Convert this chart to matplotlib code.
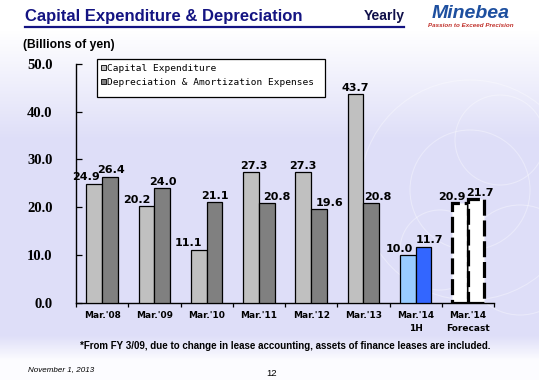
import numpy as np
import matplotlib
matplotlib.use('Agg')
import matplotlib.pyplot as plt
from matplotlib.patches import Rectangle, Patch
from matplotlib.lines import Line2D

#%% data
categories = ["Mar.'08", "Mar.'09", "Mar.'10", "Mar.'11", "Mar.'12", "Mar.'13",
              "Mar.'14\n1H", "Mar.'14\nForecast"]
capex = [24.9, 20.2, 11.1, 27.3, 27.3, 43.7, 10.0, 20.9]
deprec = [26.4, 24.0, 21.1, 20.8, 19.6, 20.8, 11.7, 21.7]
yticks = [0, 10, 20, 30, 40, 50]

# label nudges (pixels), like the hand-placed labels in the slide
capex_dx = [-8, -10, -10, 3, 0, 0, -8, -8]
dep_dx = [1, 1, 0, 10, 11, 7, 6, 4]

capex_col = ['#c0c0c0'] * 6 + ['#99ccff', 'white']
dep_col = ['#808080'] * 6 + ['#3366ff', 'white']

W, H = 539, 380
fig = plt.figure(figsize=(W / 100, H / 100), dpi=100)

#%% background gradient
bg = fig.add_axes([0, 0, 1, 1], zorder=-10)
yy = np.arange(H)
top = np.array([1.0, 1.0, 1.0])
lav = np.array([222, 222, 248]) / 255.
t = np.clip((yy - 30) / 110., 0, 1)
b = np.clip((yy - 335) / 25., 0, 1)
col = top[None, :] * (1 - t[:, None]) + lav[None, :] * t[:, None]
col = col * (1 - b[:, None]) + np.array([0.99, 0.99, 1.0])[None, :] * b[:, None]
img = np.repeat(col[:, None, :], W, axis=1)
bg.imshow(img, extent=[0, W, H, 0], aspect='auto')
bg.set_xlim(0, W)
bg.set_ylim(H, 0)
bg.axis('off')

# faint decorative circles on the right
for cx, cy, r in [(470, 190, 60), (500, 140, 45), (440, 250, 40), (520, 260, 55), (470, 190, 110)]:
    bg.add_patch(plt.Circle((cx, cy), r, fill=False, ec='white', lw=0.8, alpha=0.35))

#%% header
fig.text(25 / W, 1 - 16 / H, 'Capital Expenditure & Depreciation', fontsize=12,
         color='#141482', fontfamily='Liberation Sans', fontweight='bold', va='center')
fig.text(405 / W, 1 - 16 / H, 'Yearly', fontsize=10, color='#10104a',
         fontfamily='Liberation Sans', fontweight='bold', va='center', ha='right')
fig.add_artist(Line2D([25 / W, 404 / W], [1 - 27 / H, 1 - 27 / H], color='#141482', lw=1.6))
fig.text(471 / W, 1 - 14 / H, 'Minebea', fontsize=14, color='#1d4f9f',
         fontfamily='Liberation Sans', fontweight='bold', style='italic', va='center', ha='center')
fig.text(471 / W, 1 - 25.5 / H, 'Passion to Exceed Precision', fontsize=4.5, color='#c0302a',
         fontfamily='Liberation Sans', fontweight='bold', style='italic', va='center', ha='center')
fig.text(23 / W, 1 - 45 / H, '(Billions of yen)', fontsize=8.7, fontfamily='Liberation Sans',
         fontweight='bold', va='center')

#%% chart
ax = fig.add_axes([76 / W, 1 - 302.7 / H, (494 - 76) / W, (302.7 - 64) / H])
ax.patch.set_alpha(0)
x = np.arange(len(categories))
w = 0.3
for i in range(len(categories)):
    forecast = i == len(categories) - 1
    kw = dict(edgecolor='black', linewidth=2.3 if forecast else 0.9,
              linestyle=(0, (5, 1.5)) if forecast else '-', zorder=3)
    ax.bar(x[i] - w / 2, capex[i], w, color=capex_col[i], **kw)
    ax.bar(x[i] + w / 2, deprec[i], w, color=dep_col[i], **kw)
    ax.annotate('%.1f' % capex[i], (x[i] - w / 2, capex[i]), xytext=(capex_dx[i] * 0.72, 1),
                textcoords='offset points', ha='center', va='bottom', fontsize=8,
                fontfamily='DejaVu Sans', fontweight='bold', zorder=5)
    ax.annotate('%.1f' % deprec[i], (x[i] + w / 2, deprec[i]), xytext=(dep_dx[i] * 0.72, 1),
                textcoords='offset points', ha='center', va='bottom', fontsize=8,
                fontfamily='DejaVu Sans', fontweight='bold', zorder=5)

ax.set_xlim(-0.5, len(categories) - 0.5)
ax.set_ylim(0, 50)
ax.set_yticks(yticks)
ax.set_yticklabels(['%.1f' % v for v in yticks], fontfamily='Liberation Serif',
                   fontweight='bold', fontsize=10.5)
ax.tick_params(axis='y', direction='in', length=4, width=0.9, pad=17)

ax.set_xticks(np.arange(-0.5, len(categories)))
ax.set_xticklabels([])
ax.set_xticks(x, minor=True)
ax.set_xticklabels(categories, minor=True, fontfamily='DejaVu Sans', fontweight='bold',
                   fontsize=6.5, linespacing=1.5)
ax.tick_params(axis='x', which='major', direction='out', length=3, width=0.9)
ax.tick_params(axis='x', which='minor', length=0, pad=6)
for s in ['top', 'right']:
    ax.spines[s].set_visible(False)
for s in ['left', 'bottom']:
    ax.spines[s].set_linewidth(1.0)

#%% legend
fig.add_artist(Rectangle((97 / W, 1 - 97 / H), (325 - 97) / W, (97 - 59) / H,
                         transform=fig.transFigure, facecolor='white', edgecolor='black', lw=0.9))
handles = [Patch(facecolor='#c0c0c0', edgecolor='black', lw=0.6),
           Patch(facecolor='#808080', edgecolor='black', lw=0.6)]
fig.legend(handles, ['Capital Expenditure', 'Depreciation & Amortization Expenses'],
           loc='upper left', bbox_to_anchor=(97 / W, 1 - 60 / H), frameon=False,
           handlelength=0.55, handleheight=0.55, handletextpad=0.15, labelspacing=0.55,
           borderaxespad=0, borderpad=0.4, prop={'family': 'DejaVu Sans Mono', 'size': 6.8})

#%% footer
fig.text(285 / W, 1 - 346 / H,
         '*From FY 3/09, due to change in lease accounting, assets of finance leases are included.',
         fontsize=7.0, fontfamily='Liberation Sans', fontweight='bold', ha='center', va='center')
fig.text(28 / W, 1 - 370 / H, 'November 1, 2013', fontsize=5.8, style='italic',
         fontfamily='Liberation Sans', va='center')
fig.text(272 / W, 1 - 373 / H, '12', fontsize=6.8, fontfamily='Liberation Sans',
         va='center', ha='center')

fig.savefig('out.png', dpi=100)
